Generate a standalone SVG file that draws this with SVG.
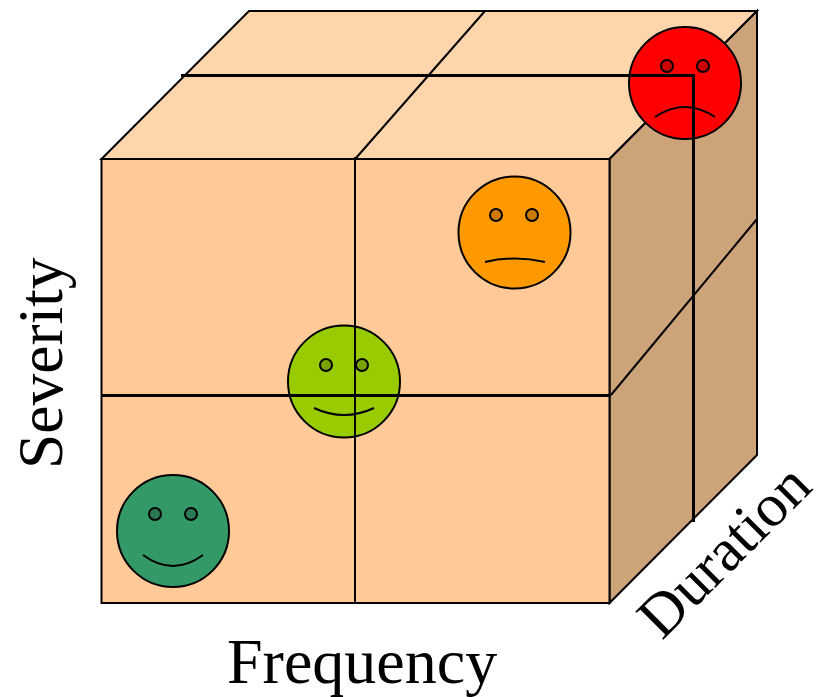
<svg xmlns="http://www.w3.org/2000/svg" width="817" height="697" viewBox="0 0 817 697">
<style>
.f{stroke:#000;stroke-width:2;stroke-linejoin:miter}
.l{fill:none;stroke:#000;stroke-width:2}
.t{fill:none;stroke:#000;stroke-width:3}
.m{fill:none;stroke:#000;stroke-width:2}
.e{stroke:#000;stroke-width:2}
text{font-family:"Liberation Serif","Times New Roman",serif;font-size:64px;fill:#000}
</style>
<g id="cube">
<polygon class="f" points="101.500,159 249,11 757,11 609.500,159" fill="#ffd5ac"/>
<polygon class="f" points="609.500,159 757,11 757,455 609.500,603" fill="#cda47a"/>
<rect class="f" x="101.500" y="159" width="508" height="444" fill="#ffc998"/>
</g>
<g id="face-orange">
<circle class="f" cx="514.500" cy="232.500" r="56" fill="#ff9900"/>
<circle class="e" cx="496" cy="215" r="6" fill="#cc7a00"/>
<circle class="e" cx="532" cy="215" r="6" fill="#cc7a00"/>
<path class="m" d="M485,262Q515,255 545,262"/>
</g>
<g id="face-red">
<circle class="f" cx="685" cy="83" r="56" fill="#ff0000"/>
<circle class="e" cx="667" cy="66" r="6" fill="#cc0000"/>
<circle class="e" cx="703" cy="66" r="6" fill="#cc0000"/>
<path class="m" d="M655,117Q685,97 715,117"/>
</g>
<g id="face-lime">
<circle class="f" cx="344" cy="381.500" r="56" fill="#99cc00"/>
<circle class="e" cx="326" cy="365" r="6" fill="#7aa300"/>
<circle class="e" cx="362" cy="365" r="6" fill="#7aa300"/>
<path class="m" d="M314,408Q344,422 374,408"/>
</g>
<g id="face-green">
<circle class="f" cx="173" cy="531" r="56" fill="#339966"/>
<circle class="e" cx="155" cy="514" r="6" fill="#297a52"/>
<circle class="e" cx="191" cy="514" r="6" fill="#297a52"/>
<path class="m" d="M143,555Q173,577 203,555"/>
</g>
<g id="connectors">
<line class="l" x1="355" y1="157" x2="355" y2="603"/>
<line class="l" x1="356" y1="158" x2="485" y2="11"/>
<line class="l" x1="611" y1="395" x2="757" y2="219"/>
<line class="t" x1="101" y1="395.500" x2="611" y2="395.500"/>
<polyline class="t" points="181,75.500 693.500,75.500 693.500,522"/>
</g>
<g id="labels">
<text x="227" y="683">Frequency</text>
<text transform="translate(62,469) rotate(-90)" style="font-size:63.500px">Severity</text>
<text transform="translate(662,641) rotate(-45)" style="font-size:60.500px">Duration</text>
</g>
</svg>
